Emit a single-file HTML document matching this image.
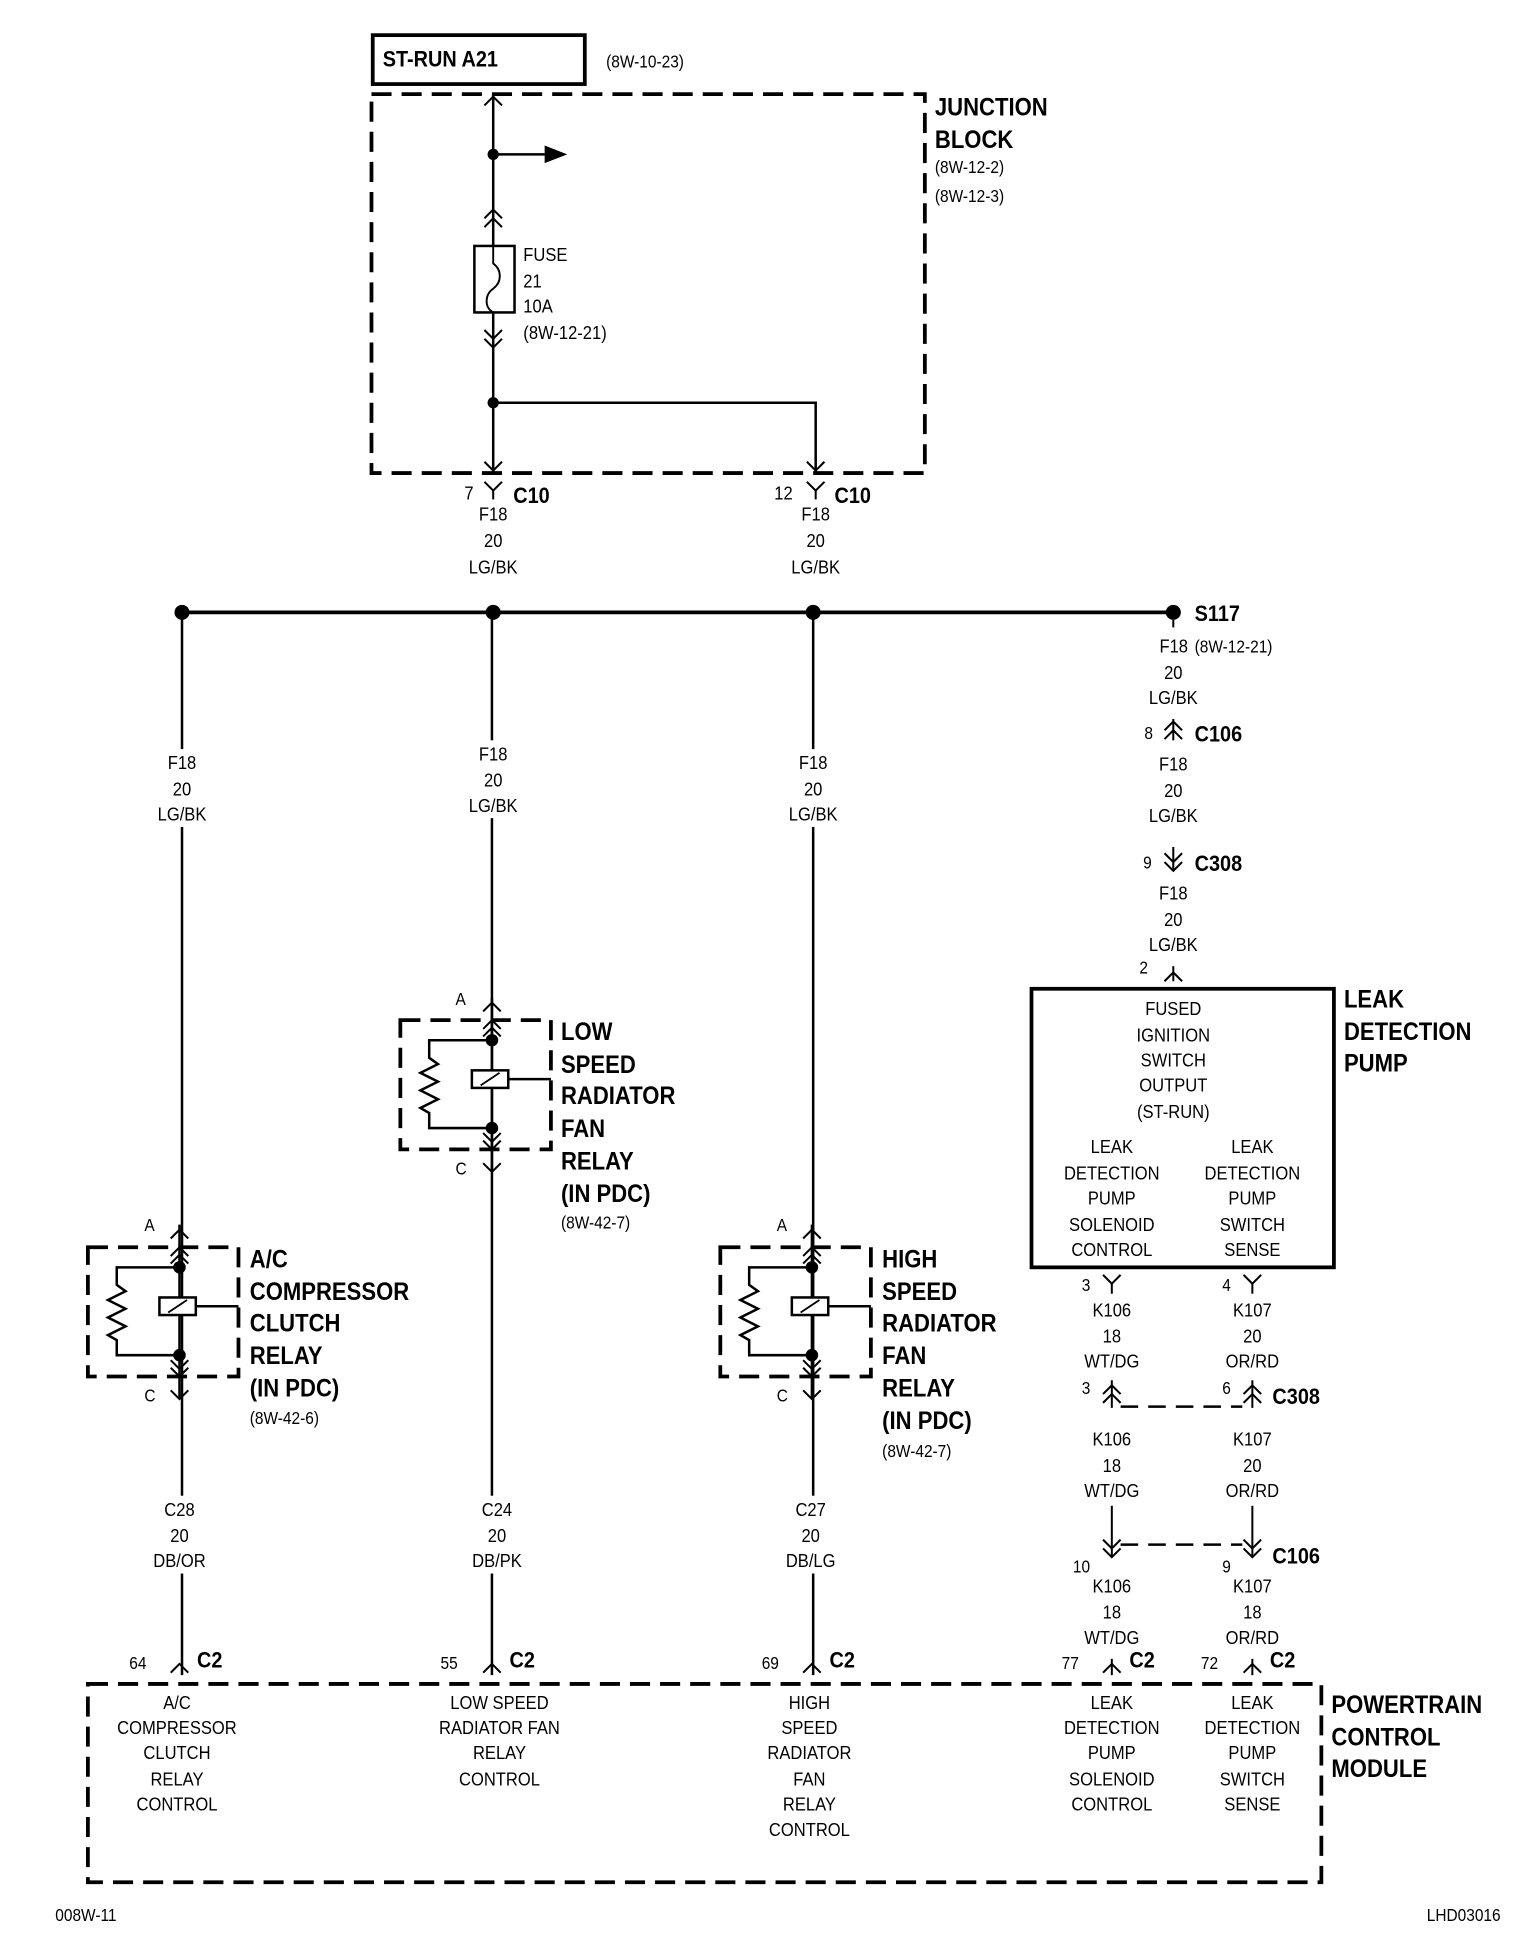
<!DOCTYPE html>
<html><head><meta charset="utf-8"><style>
html,body{margin:0;padding:0;background:#fff}
svg{display:block}
text{font-family:"Liberation Sans Narrow","Liberation Sans",sans-serif;fill:#000;font-size:15px;transform-box:fill-box;transform-origin:left center;transform:scaleX(.88)}
text.m{transform-origin:center center}
.b{font-weight:bold;font-size:20px}
.s{font-size:14px}
.m{text-anchor:middle}
</style></head><body>
<svg width="1536" height="1960" viewBox="0 0 1224 1562" xmlns="http://www.w3.org/2000/svg">
<defs>
<path id="vd" d="M-7,-7 L0,0 L7,-7" fill="none" stroke="#000" stroke-width="1.6"/>
<path id="vu" d="M-7,7 L0,0 L7,7" fill="none" stroke="#000" stroke-width="1.6"/>
<g id="relay" fill="none" stroke="#000">
<rect x="-73" y="0" width="120" height="103" stroke-width="3" stroke-dasharray="16,8"/>
<line x1="0" y1="-18" x2="0" y2="120" stroke-width="2"/>
<use href="#vu" y="0"/><use href="#vu" y="6"/>
<use href="#vd" y="103"/><use href="#vd" y="97"/>
<circle cx="0" cy="16" r="4.5" fill="#000"/>
<circle cx="0" cy="86" r="4.5" fill="#000"/>
<path d="M0,16 H-50 V30 L-43,35 L-57,42 L-43,49 L-57,56 L-43,63 L-57,70 L-50,74 V86 H0" stroke-width="2"/>
<rect x="-16" y="40" width="29" height="14" fill="#fff" stroke-width="2"/>
<line x1="-9" y1="52" x2="6" y2="42" stroke-width="1.5"/>
<line x1="13" y1="47" x2="47" y2="47" stroke-width="2"/>
</g>
</defs>

<!-- ST-RUN box -->
<rect x="297" y="28" width="169" height="39" fill="none" stroke="#000" stroke-width="3"/>
<text x="305" y="53" class="b" style="font-size:18px">ST-RUN A21</text>
<text x="483" y="54" class="s">(8W-10-23)</text>

<!-- Junction block -->
<rect x="296" y="75" width="441" height="302" fill="none" stroke="#000" stroke-width="3" stroke-dasharray="16,8"/>
<text x="745" y="92" class="b">JUNCTION</text>
<text x="745" y="118" class="b">BLOCK</text>
<text x="745" y="138" class="s">(8W-12-2)</text>
<text x="745" y="161" class="s">(8W-12-3)</text>
<g stroke="#000" fill="none" stroke-width="2">
<line x1="393" y1="75" x2="393" y2="196"/>
<line x1="393" y1="249" x2="393" y2="377"/>
<line x1="393" y1="123" x2="437" y2="123"/>
<path d="M393,321 H650 V377"/>
<rect x="378" y="196" width="32" height="53"/>
<path d="M393,196 V210 C400,215 400,225 393,230 C386,235 386,245 393,249" stroke-width="1.5"/>
</g>
<text x="417" y="208">FUSE</text>
<text x="417" y="229">21</text>
<text x="417" y="249">10A</text>
<text x="417" y="270">(8W-12-21)</text>
<use href="#vu" x="393" y="77"/>
<use href="#vu" x="393" y="167"/><use href="#vu" x="393" y="174"/>
<use href="#vd" x="393" y="270"/><use href="#vd" x="393" y="277"/>
<use href="#vd" x="393" y="375"/><use href="#vd" x="650" y="375"/>
<circle cx="393" cy="123" r="4.5"/><circle cx="393" cy="321" r="4.5"/>
<polygon points="434,116 452,123 434,130"/>

<!-- C10 -->
<use href="#vd" x="393" y="391"/><line x1="393" y1="391" x2="393" y2="398" stroke="#000" stroke-width="1.6"/>
<use href="#vd" x="650" y="391"/><line x1="650" y1="391" x2="650" y2="398" stroke="#000" stroke-width="1.6"/>
<text x="370" y="398">7</text><text x="409" y="401" class="b" style="font-size:18px">C10</text>
<text x="617" y="398">12</text><text x="665" y="401" class="b" style="font-size:18px">C10</text>
<text x="393" y="415" class="m">F18</text><text x="393" y="436" class="m">20</text><text x="393" y="457" class="m">LG/BK</text>
<text x="650" y="415" class="m">F18</text><text x="650" y="436" class="m">20</text><text x="650" y="457" class="m">LG/BK</text>

<!-- bus -->
<line x1="145" y1="488" x2="935" y2="488" stroke="#000" stroke-width="3"/>
<circle cx="145" cy="488" r="6"/><circle cx="393" cy="488" r="6"/><circle cx="648" cy="488" r="6"/><circle cx="935" cy="488" r="6"/>
<text x="952" y="495" class="b" style="font-size:18px">S117</text>

<!-- vertical wires -->
<g stroke="#000" stroke-width="2">
<line x1="145" y1="488" x2="145" y2="1335"/>
<line x1="392" y1="488" x2="392" y2="1335"/>
<line x1="648" y1="488" x2="648" y2="1335"/>
</g>
<g fill="#fff">
<rect x="120" y="597" width="50" height="62"/><rect x="368" y="590" width="50" height="62"/><rect x="622" y="597" width="50" height="62"/>
<rect x="120" y="1192" width="50" height="62"/><rect x="368" y="1192" width="50" height="62"/><rect x="622" y="1192" width="50" height="62"/>
</g>
<text x="145" y="613" class="m">F18</text><text x="145" y="634" class="m">20</text><text x="145" y="654" class="m">LG/BK</text>
<text x="393" y="606" class="m">F18</text><text x="393" y="627" class="m">20</text><text x="393" y="647" class="m">LG/BK</text>
<text x="648" y="613" class="m">F18</text><text x="648" y="634" class="m">20</text><text x="648" y="654" class="m">LG/BK</text>
<text x="143" y="1208" class="m">C28</text><text x="143" y="1229" class="m">20</text><text x="143" y="1249" class="m">DB/OR</text>
<text x="396" y="1208" class="m">C24</text><text x="396" y="1229" class="m">20</text><text x="396" y="1249" class="m">DB/PK</text>
<text x="646" y="1208" class="m">C27</text><text x="646" y="1229" class="m">20</text><text x="646" y="1249" class="m">DB/LG</text>

<!-- relays -->
<use href="#relay" x="143" y="994"/>
<use href="#vu" x="143" y="980"/><use href="#vd" x="143" y="1115"/>
<text x="115" y="981" class="s">A</text><text x="115" y="1117" class="s">C</text>
<text x="199" y="1010" class="b">A/C</text><text x="199" y="1036" class="b">COMPRESSOR</text><text x="199" y="1061" class="b">CLUTCH</text><text x="199" y="1087" class="b">RELAY</text><text x="199" y="1113" class="b">(IN PDC)</text>
<text x="199" y="1135" class="s">(8W-42-6)</text>

<use href="#relay" x="392" y="813"/>
<use href="#vu" x="392" y="799"/><use href="#vd" x="392" y="934"/>
<text x="363" y="801" class="s">A</text><text x="363" y="936" class="s">C</text>
<text x="447" y="829" class="b">LOW</text><text x="447" y="855" class="b">SPEED</text><text x="447" y="880" class="b">RADIATOR</text><text x="447" y="906" class="b">FAN</text><text x="447" y="932" class="b">RELAY</text><text x="447" y="958" class="b">(IN PDC)</text>
<text x="447" y="979" class="s">(8W-42-7)</text>

<use href="#relay" x="647" y="994"/>
<use href="#vu" x="647" y="980"/><use href="#vd" x="647" y="1115"/>
<text x="619" y="981" class="s">A</text><text x="619" y="1117" class="s">C</text>
<text x="703" y="1010" class="b">HIGH</text><text x="703" y="1036" class="b">SPEED</text><text x="703" y="1061" class="b">RADIATOR</text><text x="703" y="1087" class="b">FAN</text><text x="703" y="1113" class="b">RELAY</text><text x="703" y="1139" class="b">(IN PDC)</text>
<text x="703" y="1161" class="s">(8W-42-7)</text>

<!-- right column -->
<g stroke="#000" stroke-width="1.6">
<line x1="935" y1="494" x2="935" y2="500"/>
<line x1="935" y1="573" x2="935" y2="590"/>
<line x1="935" y1="675" x2="935" y2="693"/>
<line x1="935" y1="770" x2="935" y2="782"/>
</g>
<text x="924" y="520">F18</text><text x="952" y="520" class="s">(8W-12-21)</text>
<text x="935" y="541" class="m">20</text><text x="935" y="561" class="m">LG/BK</text>
<use href="#vu" x="935" y="575"/><use href="#vu" x="935" y="582"/>
<text x="912" y="589" class="s">8</text><text x="952" y="591" class="b" style="font-size:18px">C106</text>
<text x="935" y="614" class="m">F18</text><text x="935" y="635" class="m">20</text><text x="935" y="655" class="m">LG/BK</text>
<use href="#vd" x="935" y="687"/><use href="#vd" x="935" y="694"/>
<text x="911" y="692" class="s">9</text><text x="952" y="694" class="b" style="font-size:18px">C308</text>
<text x="935" y="717" class="m">F18</text><text x="935" y="738" class="m">20</text><text x="935" y="758" class="m">LG/BK</text>
<use href="#vu" x="935" y="775"/><text x="908" y="776" class="s">2</text>

<rect x="822" y="788" width="241" height="222" fill="none" stroke="#000" stroke-width="3"/>
<text x="935" y="809" class="m">FUSED</text><text x="935" y="830" class="m">IGNITION</text><text x="935" y="850" class="m">SWITCH</text><text x="935" y="870" class="m">OUTPUT</text><text x="935" y="891" class="m">(ST-RUN)</text>
<text x="886" y="919" class="m">LEAK</text><text x="886" y="940" class="m">DETECTION</text><text x="886" y="960" class="m">PUMP</text><text x="886" y="981" class="m">SOLENOID</text><text x="886" y="1001" class="m">CONTROL</text>
<text x="998" y="919" class="m">LEAK</text><text x="998" y="940" class="m">DETECTION</text><text x="998" y="960" class="m">PUMP</text><text x="998" y="981" class="m">SWITCH</text><text x="998" y="1001" class="m">SENSE</text>
<text x="1071" y="803" class="b">LEAK</text><text x="1071" y="829" class="b">DETECTION</text><text x="1071" y="854" class="b">PUMP</text>

<g stroke="#000" stroke-width="1.6">
<line x1="886" y1="1023" x2="886" y2="1031"/><line x1="998" y1="1023" x2="998" y2="1031"/>
<line x1="886" y1="1100" x2="886" y2="1122"/><line x1="998" y1="1100" x2="998" y2="1122"/>
<line x1="886" y1="1200" x2="886" y2="1240"/><line x1="998" y1="1200" x2="998" y2="1240"/>
<line x1="886" y1="1322" x2="886" y2="1335"/><line x1="998" y1="1322" x2="998" y2="1335"/>
<line x1="893" y1="1121" x2="990" y2="1121" stroke-width="2" stroke-dasharray="14,8"/>
<line x1="893" y1="1231" x2="990" y2="1231" stroke-width="2" stroke-dasharray="14,8"/>
</g>
<use href="#vd" x="886" y="1023"/><use href="#vd" x="998" y="1023"/>
<text x="862" y="1029" class="s">3</text><text x="974" y="1029" class="s">4</text>
<text x="886" y="1049" class="m">K106</text><text x="886" y="1070" class="m">18</text><text x="886" y="1090" class="m">WT/DG</text>
<text x="998" y="1049" class="m">K107</text><text x="998" y="1070" class="m">20</text><text x="998" y="1090" class="m">OR/RD</text>
<use href="#vu" x="886" y="1104"/><use href="#vu" x="886" y="1111"/>
<use href="#vu" x="998" y="1104"/><use href="#vu" x="998" y="1111"/>
<text x="862" y="1111" class="s">3</text><text x="974" y="1111" class="s">6</text>
<text x="1014" y="1119" class="b" style="font-size:18px">C308</text>
<text x="886" y="1152" class="m">K106</text><text x="886" y="1173" class="m">18</text><text x="886" y="1193" class="m">WT/DG</text>
<text x="998" y="1152" class="m">K107</text><text x="998" y="1173" class="m">20</text><text x="998" y="1193" class="m">OR/RD</text>
<use href="#vd" x="886" y="1234"/><use href="#vd" x="886" y="1241"/>
<use href="#vd" x="998" y="1234"/><use href="#vd" x="998" y="1241"/>
<text x="855" y="1253" class="s">10</text><text x="974" y="1253" class="s">9</text>
<text x="1014" y="1246" class="b" style="font-size:18px">C106</text>
<text x="886" y="1269" class="m">K106</text><text x="886" y="1290" class="m">18</text><text x="886" y="1310" class="m">WT/DG</text>
<text x="998" y="1269" class="m">K107</text><text x="998" y="1290" class="m">18</text><text x="998" y="1310" class="m">OR/RD</text>

<!-- C2 connectors -->
<use href="#vu" x="143" y="1326"/><use href="#vu" x="392" y="1326"/><use href="#vu" x="647" y="1326"/><use href="#vu" x="886" y="1326"/><use href="#vu" x="998" y="1326"/>
<text x="103" y="1330" class="s">64</text><text x="157" y="1329" class="b" style="font-size:18px">C2</text>
<text x="351" y="1330" class="s">55</text><text x="406" y="1329" class="b" style="font-size:18px">C2</text>
<text x="607" y="1330" class="s">69</text><text x="661" y="1329" class="b" style="font-size:18px">C2</text>
<text x="846" y="1330" class="s">77</text><text x="900" y="1329" class="b" style="font-size:18px">C2</text>
<text x="957" y="1330" class="s">72</text><text x="1012" y="1329" class="b" style="font-size:18px">C2</text>

<!-- PCM -->
<rect x="70" y="1342" width="983" height="158" fill="none" stroke="#000" stroke-width="3" stroke-dasharray="16,8"/>
<text x="141" y="1362" class="m">A/C</text><text x="141" y="1382" class="m">COMPRESSOR</text><text x="141" y="1402" class="m">CLUTCH</text><text x="141" y="1423" class="m">RELAY</text><text x="141" y="1443" class="m">CONTROL</text>
<text x="398" y="1362" class="m">LOW SPEED</text><text x="398" y="1382" class="m">RADIATOR FAN</text><text x="398" y="1402" class="m">RELAY</text><text x="398" y="1423" class="m">CONTROL</text>
<text x="645" y="1362" class="m">HIGH</text><text x="645" y="1382" class="m">SPEED</text><text x="645" y="1402" class="m">RADIATOR</text><text x="645" y="1423" class="m">FAN</text><text x="645" y="1443" class="m">RELAY</text><text x="645" y="1463" class="m">CONTROL</text>
<text x="886" y="1362" class="m">LEAK</text><text x="886" y="1382" class="m">DETECTION</text><text x="886" y="1402" class="m">PUMP</text><text x="886" y="1423" class="m">SOLENOID</text><text x="886" y="1443" class="m">CONTROL</text>
<text x="998" y="1362" class="m">LEAK</text><text x="998" y="1382" class="m">DETECTION</text><text x="998" y="1402" class="m">PUMP</text><text x="998" y="1423" class="m">SWITCH</text><text x="998" y="1443" class="m">SENSE</text>
<text x="1061" y="1365" class="b">POWERTRAIN</text><text x="1061" y="1391" class="b">CONTROL</text><text x="1061" y="1416" class="b">MODULE</text>

<text x="44" y="1531" class="s">008W-11</text>
<text x="1137" y="1531" class="s">LHD03016</text>
</svg>
</body></html>
